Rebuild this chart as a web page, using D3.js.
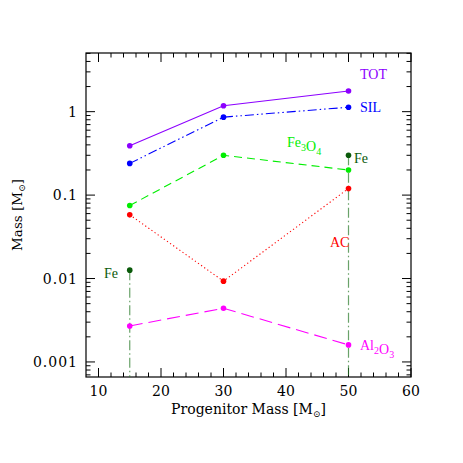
<!DOCTYPE html>
<html>
<head>
<meta charset="utf-8">
<script src="https://cdn.jsdelivr.net/npm/d3@7"></script>
<style>
  body { margin: 0; background: #fff; }
  text { font-family: "Liberation Serif", serif; }
  .axis-text { font-family: "DejaVu Serif", serif; }
</style>
</head>
<body>
<script>
// progenitor masses and dust masses
var progenitor = [15, 30, 50];
var totMass = [0.39, 1.18, 1.77];
var silMass = [0.24, 0.86, 1.13];
var fe3o4Mass = [0.075, 0.30, 0.20];
var acMass = [0.058, 0.0093, 0.12];
var al2o3Mass = [0.0027, 0.0044, 0.0016];
var feProgenitor = [15, 50];
var feMass = [0.0126, 0.30];

var xTicks = [10, 20, 30, 40, 50, 60];
var yTicks = [0.001, 0.01, 0.1, 1];

var width = 463, height = 463;
var margin = {top: 53, right: 52, bottom: 86, left: 86};

var svg = d3.select("body").append("svg")
    .attr("width", width)
    .attr("height", height);

var xScale = d3.scaleLinear()
    .domain([8, 60])
    .range([margin.left, width - margin.right]);

var yScale = d3.scaleLog()
    .domain([6.6e-4, 5.05])
    .range([height - margin.bottom, margin.top]);

var x0 = xScale.range()[0], x1 = xScale.range()[1];
var y0 = yScale.range()[0], y1 = yScale.range()[1];

// frame
svg.append("rect")
    .attr("x", x0).attr("y", y1)
    .attr("width", x1 - x0).attr("height", y0 - y1)
    .attr("fill", "none").attr("stroke", "#000").attr("stroke-width", 1.2);

// x ticks (inside, top and bottom)
var xMinor = d3.range(10, 60, 2).filter(function(v) { return v % 10 != 0; });
var ticks = svg.append("g").attr("stroke", "#000").attr("stroke-width", 1);
xTicks.forEach(function(v) {
    ticks.append("line").attr("x1", xScale(v)).attr("x2", xScale(v)).attr("y1", y0).attr("y2", y0 - 9);
    ticks.append("line").attr("x1", xScale(v)).attr("x2", xScale(v)).attr("y1", y1).attr("y2", y1 + 9);
});
xMinor.forEach(function(v) {
    ticks.append("line").attr("x1", xScale(v)).attr("x2", xScale(v)).attr("y1", y0).attr("y2", y0 - 4.5);
    ticks.append("line").attr("x1", xScale(v)).attr("x2", xScale(v)).attr("y1", y1).attr("y2", y1 + 4.5);
});

// y ticks (log, inside, left and right)
var yMinor = [];
[0.0001, 0.001, 0.01, 0.1, 1].forEach(function(dec) {
    for (var k = 2; k <= 9; k++) {
        var v = dec * k;
        if (v > yScale.domain()[0] && v < yScale.domain()[1]) yMinor.push(v);
    }
});
yTicks.forEach(function(v) {
    ticks.append("line").attr("x1", x0).attr("x2", x0 + 9).attr("y1", yScale(v)).attr("y2", yScale(v));
    ticks.append("line").attr("x1", x1).attr("x2", x1 - 9).attr("y1", yScale(v)).attr("y2", yScale(v));
});
yMinor.forEach(function(v) {
    ticks.append("line").attr("x1", x0).attr("x2", x0 + 4.5).attr("y1", yScale(v)).attr("y2", yScale(v));
    ticks.append("line").attr("x1", x1).attr("x2", x1 - 4.5).attr("y1", yScale(v)).attr("y2", yScale(v));
});

// tick labels
svg.append("g").selectAll("text").data(xTicks).enter().append("text")
    .attr("class", "axis-text")
    .attr("x", function(d) { return xScale(d); })
    .attr("y", y0 + 19)
    .attr("text-anchor", "middle")
    .attr("font-size", 14)
    .text(function(d) { return d; });

svg.append("g").selectAll("text").data(yTicks).enter().append("text")
    .attr("class", "axis-text")
    .attr("x", x0 - 8)
    .attr("y", function(d) { return yScale(d) + 5; })
    .attr("text-anchor", "end")
    .attr("font-size", 14)
    .attr("letter-spacing", 1)
    .text(function(d) { return d; });

// axis titles
var xt = svg.append("text")
    .attr("class", "axis-text")
    .attr("x", (x0 + x1) / 2).attr("y", y0 + 37)
    .attr("text-anchor", "middle").attr("font-size", 14);
xt.append("tspan").text("Progenitor Mass [M");
xt.append("tspan").attr("dy", 3).attr("font-size", 9).text("\u2299");
xt.append("tspan").attr("dy", -3).text("]");

var yt = svg.append("text")
    .attr("class", "axis-text")
    .attr("transform", "translate(22," + ((y0 + y1) / 2) + ") rotate(-90)")
    .attr("text-anchor", "middle").attr("font-size", 13.5);
yt.append("tspan").text("Mass [M");
yt.append("tspan").attr("dy", 3).attr("font-size", 9).text("\u2299");
yt.append("tspan").attr("dy", -3).text("]");

var line = d3.line()
    .x(function(d) { return xScale(d[0]); })
    .y(function(d) { return yScale(d[1]); });

function drawSeries(xs, ys, color, dash) {
    var pts = xs.map(function(x, i) { return [x, ys[i]]; });
    svg.append("path")
        .attr("d", line(pts))
        .attr("fill", "none")
        .attr("stroke", color)
        .attr("stroke-width", 1.1)
        .attr("stroke-dasharray", dash);
    svg.append("g").selectAll("circle").data(pts).enter().append("circle")
        .attr("cx", function(d) { return xScale(d[0]); })
        .attr("cy", function(d) { return yScale(d[1]); })
        .attr("r", 2.8)
        .attr("fill", color);
}

// Fe: vertical dash-dot drops to the lower frame
feProgenitor.forEach(function(x, i) {
    svg.append("line")
        .attr("x1", xScale(x)).attr("x2", xScale(x))
        .attr("y1", yScale(feMass[i])).attr("y2", y0)
        .attr("stroke", "#2a7a2a").attr("stroke-opacity", 0.7)
        .attr("stroke-width", 1.2)
        .attr("stroke-dasharray", "10,3,1.5,3");
    svg.append("circle")
        .attr("cx", xScale(x)).attr("cy", yScale(feMass[i]))
        .attr("r", 2.8).attr("fill", "#0a5a0a");
});

drawSeries(progenitor, totMass, "#8c00ff", null);
drawSeries(progenitor, silMass, "#0000ff", "9,3,1.5,3,1.5,3");
drawSeries(progenitor, fe3o4Mass, "#00ee00", "8,5");
drawSeries(progenitor, acMass, "#ff0000", "1.2,2.6");
drawSeries(progenitor, al2o3Mass, "#ff00ff", "13,6");

// labels
function label(x, y, color, parts) {
    var t = svg.append("text").attr("x", x).attr("y", y)
        .attr("fill", color).attr("font-size", 14);
    parts.forEach(function(p) {
        if (p.sub) {
            t.append("tspan").attr("dy", 4).attr("font-size", 10).text(p.t);
            t.append("tspan").attr("dy", -4).text("");
        } else {
            t.append("tspan").text(p.t);
        }
    });
}
label(360, 79, "#8c00ff", [{t: "TOT"}]);
label(360, 112, "#0000ff", [{t: "SIL"}]);
label(287, 147, "#00ee00", [{t: "Fe"}, {t: "3", sub: true}, {t: "O"}, {t: "4", sub: true}]);
label(354, 163, "#0a5a0a", [{t: "Fe"}]);
label(330, 247, "#ff0000", [{t: "AC"}]);
label(104, 278, "#0a5a0a", [{t: "Fe"}]);
label(360, 350, "#ff00ff", [{t: "Al"}, {t: "2", sub: true}, {t: "O"}, {t: "3", sub: true}]);
</script>
</body>
</html>
